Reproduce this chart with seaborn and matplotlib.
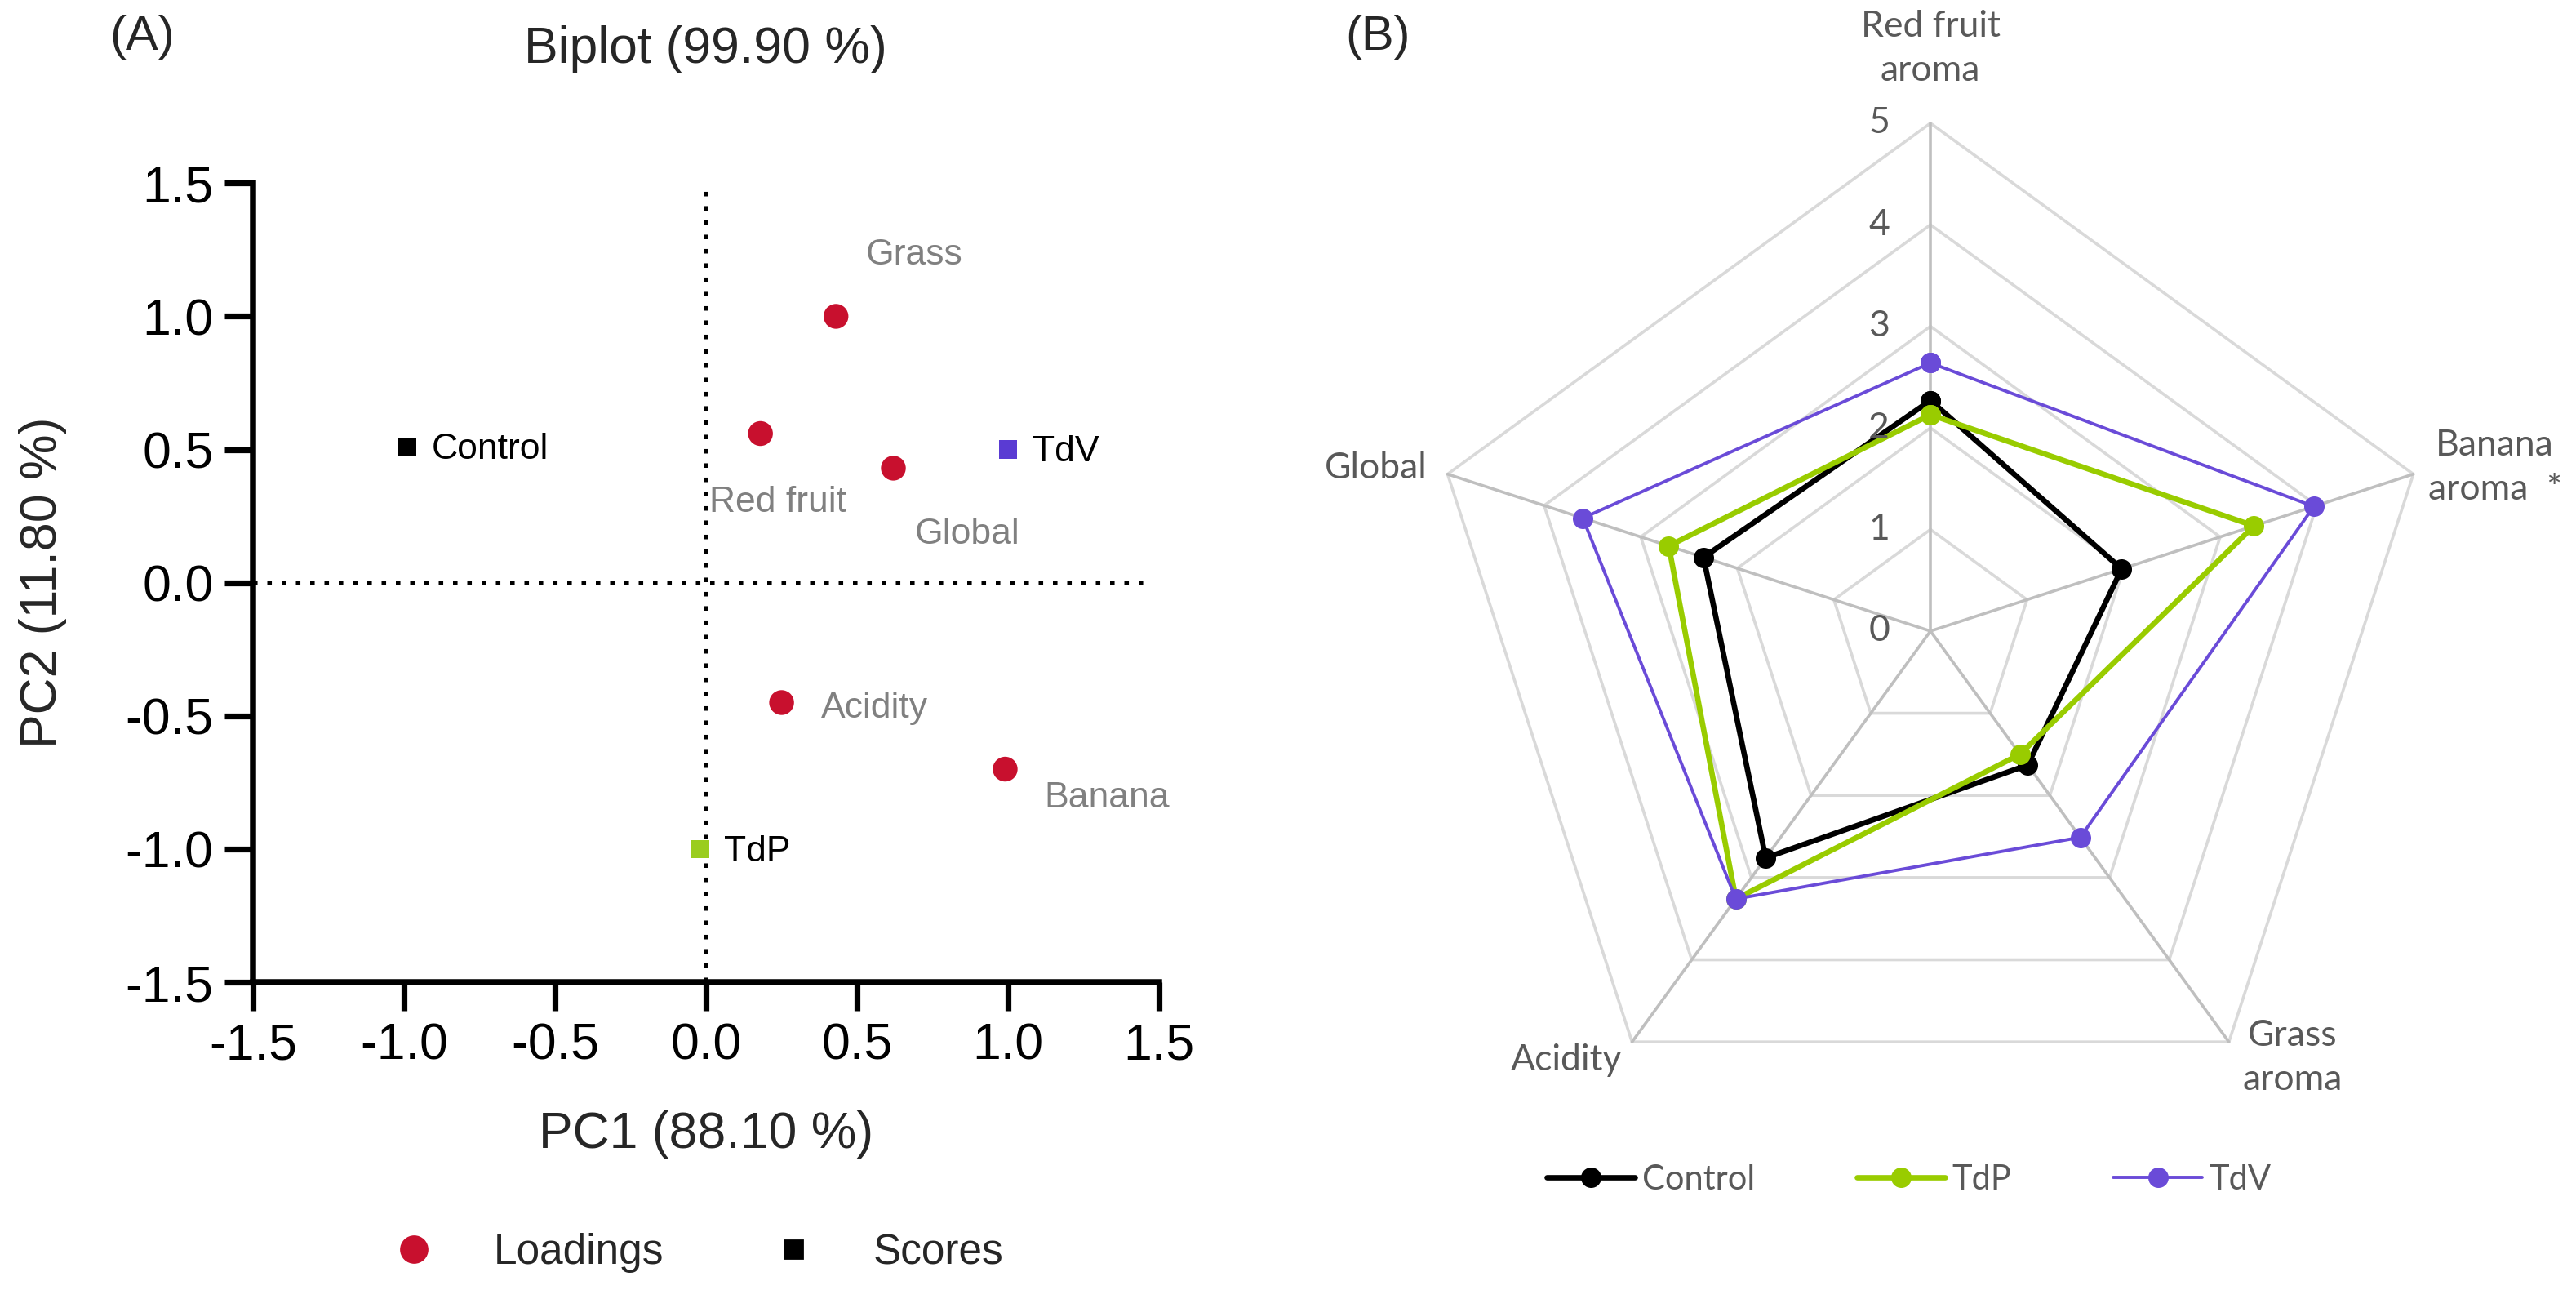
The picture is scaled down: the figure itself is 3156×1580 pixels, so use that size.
import numpy as np
import matplotlib.pyplot as plt
import seaborn as sns
from matplotlib.lines import Line2D

sns.set_theme(style='white')
plt.rcParams['font.family'] = ['Liberation Sans', 'DejaVu Sans']
plt.rcParams['axes.unicode_minus'] = False

# Painel A - biplot (loadings e scores)
loading_names = ['Grass', 'Red fruit', 'Global', 'Acidity', 'Banana']
loading_pc1 = [0.43, 0.18, 0.62, 0.25, 0.99]
loading_pc2 = [1.0, 0.56, 0.43, -0.45, -0.70]

score_names = ['Control', 'TdV', 'TdP']
score_pc1 = [-0.99, 1.0, -0.02]
score_pc2 = [0.51, 0.50, -1.0]
score_cores = ['#000000', '#5a3bd3', '#9acd1e']

# Painel B - radar
atributos = ['Red fruit\naroma', 'Banana\naroma  *', 'Grass\naroma', 'Acidity', 'Global']
control = [2.27, 1.98, 1.63, 2.76, 2.35]
tdp = [2.13, 3.35, 1.50, 3.26, 2.71]
tdv = [2.64, 3.97, 2.51, 3.26, 3.60]

fig = plt.figure(figsize=(15.78, 7.9), dpi=200)

# ---------------- (A) ----------------
ax = fig.add_axes([0.0982, 0.2386, 0.3518, 0.6194])
vermelho = '#c8102e'
sns.scatterplot(x=loading_pc1, y=loading_pc2, color=vermelho, s=120, marker='o',
                edgecolor='none', ax=ax, zorder=3)
sns.scatterplot(x=score_pc1, y=score_pc2, hue=score_names, palette=score_cores,
                s=64, marker='s', edgecolor='none', ax=ax, legend=False, zorder=3)

# deslocamento dos rotulos (em unidades dos dados)
desloc_loading = {'Grass': (0.26, 0.23, 'center'), 'Red fruit': (-0.17, -0.26, 'left'),
                  'Global': (0.07, -0.25, 'left'), 'Acidity': (0.13, -0.02, 'left'),
                  'Banana': (0.13, -0.11, 'left')}
for nome, x, y in zip(loading_names, loading_pc1, loading_pc2):
    dx, dy, ha = desloc_loading[nome]
    ax.text(x + dx, y + dy, nome, color='#808080', fontsize=16, ha=ha, va='center')
for nome, x, y in zip(score_names, score_pc1, score_pc2):
    ax.text(x + 0.08, y - 0.01, nome, color='black', fontsize=16, ha='left', va='center')

ax.axhline(0, xmax=0.983, color='black', ls=(0, (1, 2.15)), lw=2, zorder=1)
ax.axvline(0, color='black', ls=(0, (1, 2.15)), lw=2, zorder=1)

ticks = np.arange(-1.5, 1.51, 0.5)
ax.set_xlim(-1.5, 1.5)
ax.set_ylim(-1.5, 1.5)
ax.set_xticks(ticks)
ax.set_yticks(ticks)
ax.set_xticklabels([f'{t:.1f}' for t in ticks])
ax.set_yticklabels([f'{t:.1f}' for t in ticks])
ax.tick_params(direction='out', length=12.5, width=2.6, labelsize=22.5, pad=5,
               bottom=True, left=True, colors='black')
for lado in ['top', 'right']:
    ax.spines[lado].set_visible(False)
for lado in ['left', 'bottom']:
    ax.spines[lado].set_linewidth(2.7)
    ax.spines[lado].set_color('black')
ax.set_xlabel('PC1 (88.10 %)', fontsize=22.5)
ax.set_ylabel('PC2 (11.80 %)', fontsize=22.5)
ax.xaxis.set_label_coords(0.5, -0.191)
ax.xaxis.label.set_va('center')
ax.yaxis.set_label_coords(-0.232, 0.5)
ax.yaxis.label.set_va('center')

fig.text(0.274, 0.962, 'Biplot (99.90 %)', fontsize=22.5, ha='center', va='center')
fig.text(0.055, 0.971, '(A)', fontsize=21.5, ha='center', va='center')

handles_a = [Line2D([], [], marker='o', ls='none', color=vermelho, markersize=11.5),
             Line2D([], [], marker='s', ls='none', color='black', markersize=8)]
fig.legend(handles_a, ['Loadings', 'Scores'], loc='center', bbox_to_anchor=(0.267, 0.0285),
           ncol=2, frameon=False, fontsize=18.5, handlelength=2.0, handletextpad=0.9,
           columnspacing=2.1)

# ---------------- (B) ----------------
fonte_b = ['Lato', 'DejaVu Sans']
cinza_txt = '#595959'
raio = 0.3937
cx, cy = 0.7494, 0.5108
lado_w = raio * 2 * 7.9 / 15.78
ax2 = fig.add_axes([cx - lado_w / 2, cy - raio, lado_w, 2 * raio], projection='polar')
ax2.set_theta_offset(np.pi / 2)
ax2.set_theta_direction(-1)
ax2.set_ylim(0, 5)
ax2.axis('off')

angulos = np.arange(len(atributos)) * 2 * np.pi / len(atributos)
fechado = np.r_[angulos, angulos[0]]

for k in range(1, 6):
    ax2.plot(fechado, [k] * len(fechado), color='#d9d9d9', lw=1.3, zorder=1, clip_on=False)
for a in angulos:
    ax2.plot([a, a], [0, 5], color='#bfbfbf', lw=1.3, zorder=1, clip_on=False)

series = [('Control', control, 'black', 2.4), ('TdP', tdp, '#99cc00', 2.4), ('TdV', tdv, '#6a4bd8', 1.4)]
for nome, vals, cor, lw in series:
    ax2.plot(fechado, list(vals) + [vals[0]], color=cor, lw=lw, marker='o', markersize=8,
             zorder=3, clip_on=False, label=nome)

for k in range(6):
    ax2.annotate(str(k), xy=(0, k), xytext=(-18, 0), textcoords='offset points',
                 ha='right', va='center', fontsize=16, color=cinza_txt, family=fonte_b)

desloc_atrib = [(0, 33, 'center'), (36, 3, 'center'), (28, -7, 'center'), (-29, -8, 'center'), (-9, 2.5, 'right')]
for a, nome, (dx, dy, ha) in zip(angulos, atributos, desloc_atrib):
    ax2.annotate(nome, xy=(a, 5), xytext=(dx, dy), textcoords='offset points', ha=ha,
                 va='center', multialignment='center', fontsize=16, color=cinza_txt,
                 family=fonte_b, linespacing=1.4, annotation_clip=False)

fig.text(0.535, 0.971, '(B)', fontsize=21.5, ha='center', va='center')

h, l = ax2.get_legend_handles_labels()
leg = fig.legend(h, l, loc='center', bbox_to_anchor=(0.741, 0.0854), ncol=3, frameon=False,
                 handlelength=2.6, handletextpad=0.2, columnspacing=3.0,
                 prop={'family': fonte_b, 'size': 15})
for t in leg.get_texts():
    t.set_color(cinza_txt)

fig.savefig('out.png', dpi=200)
